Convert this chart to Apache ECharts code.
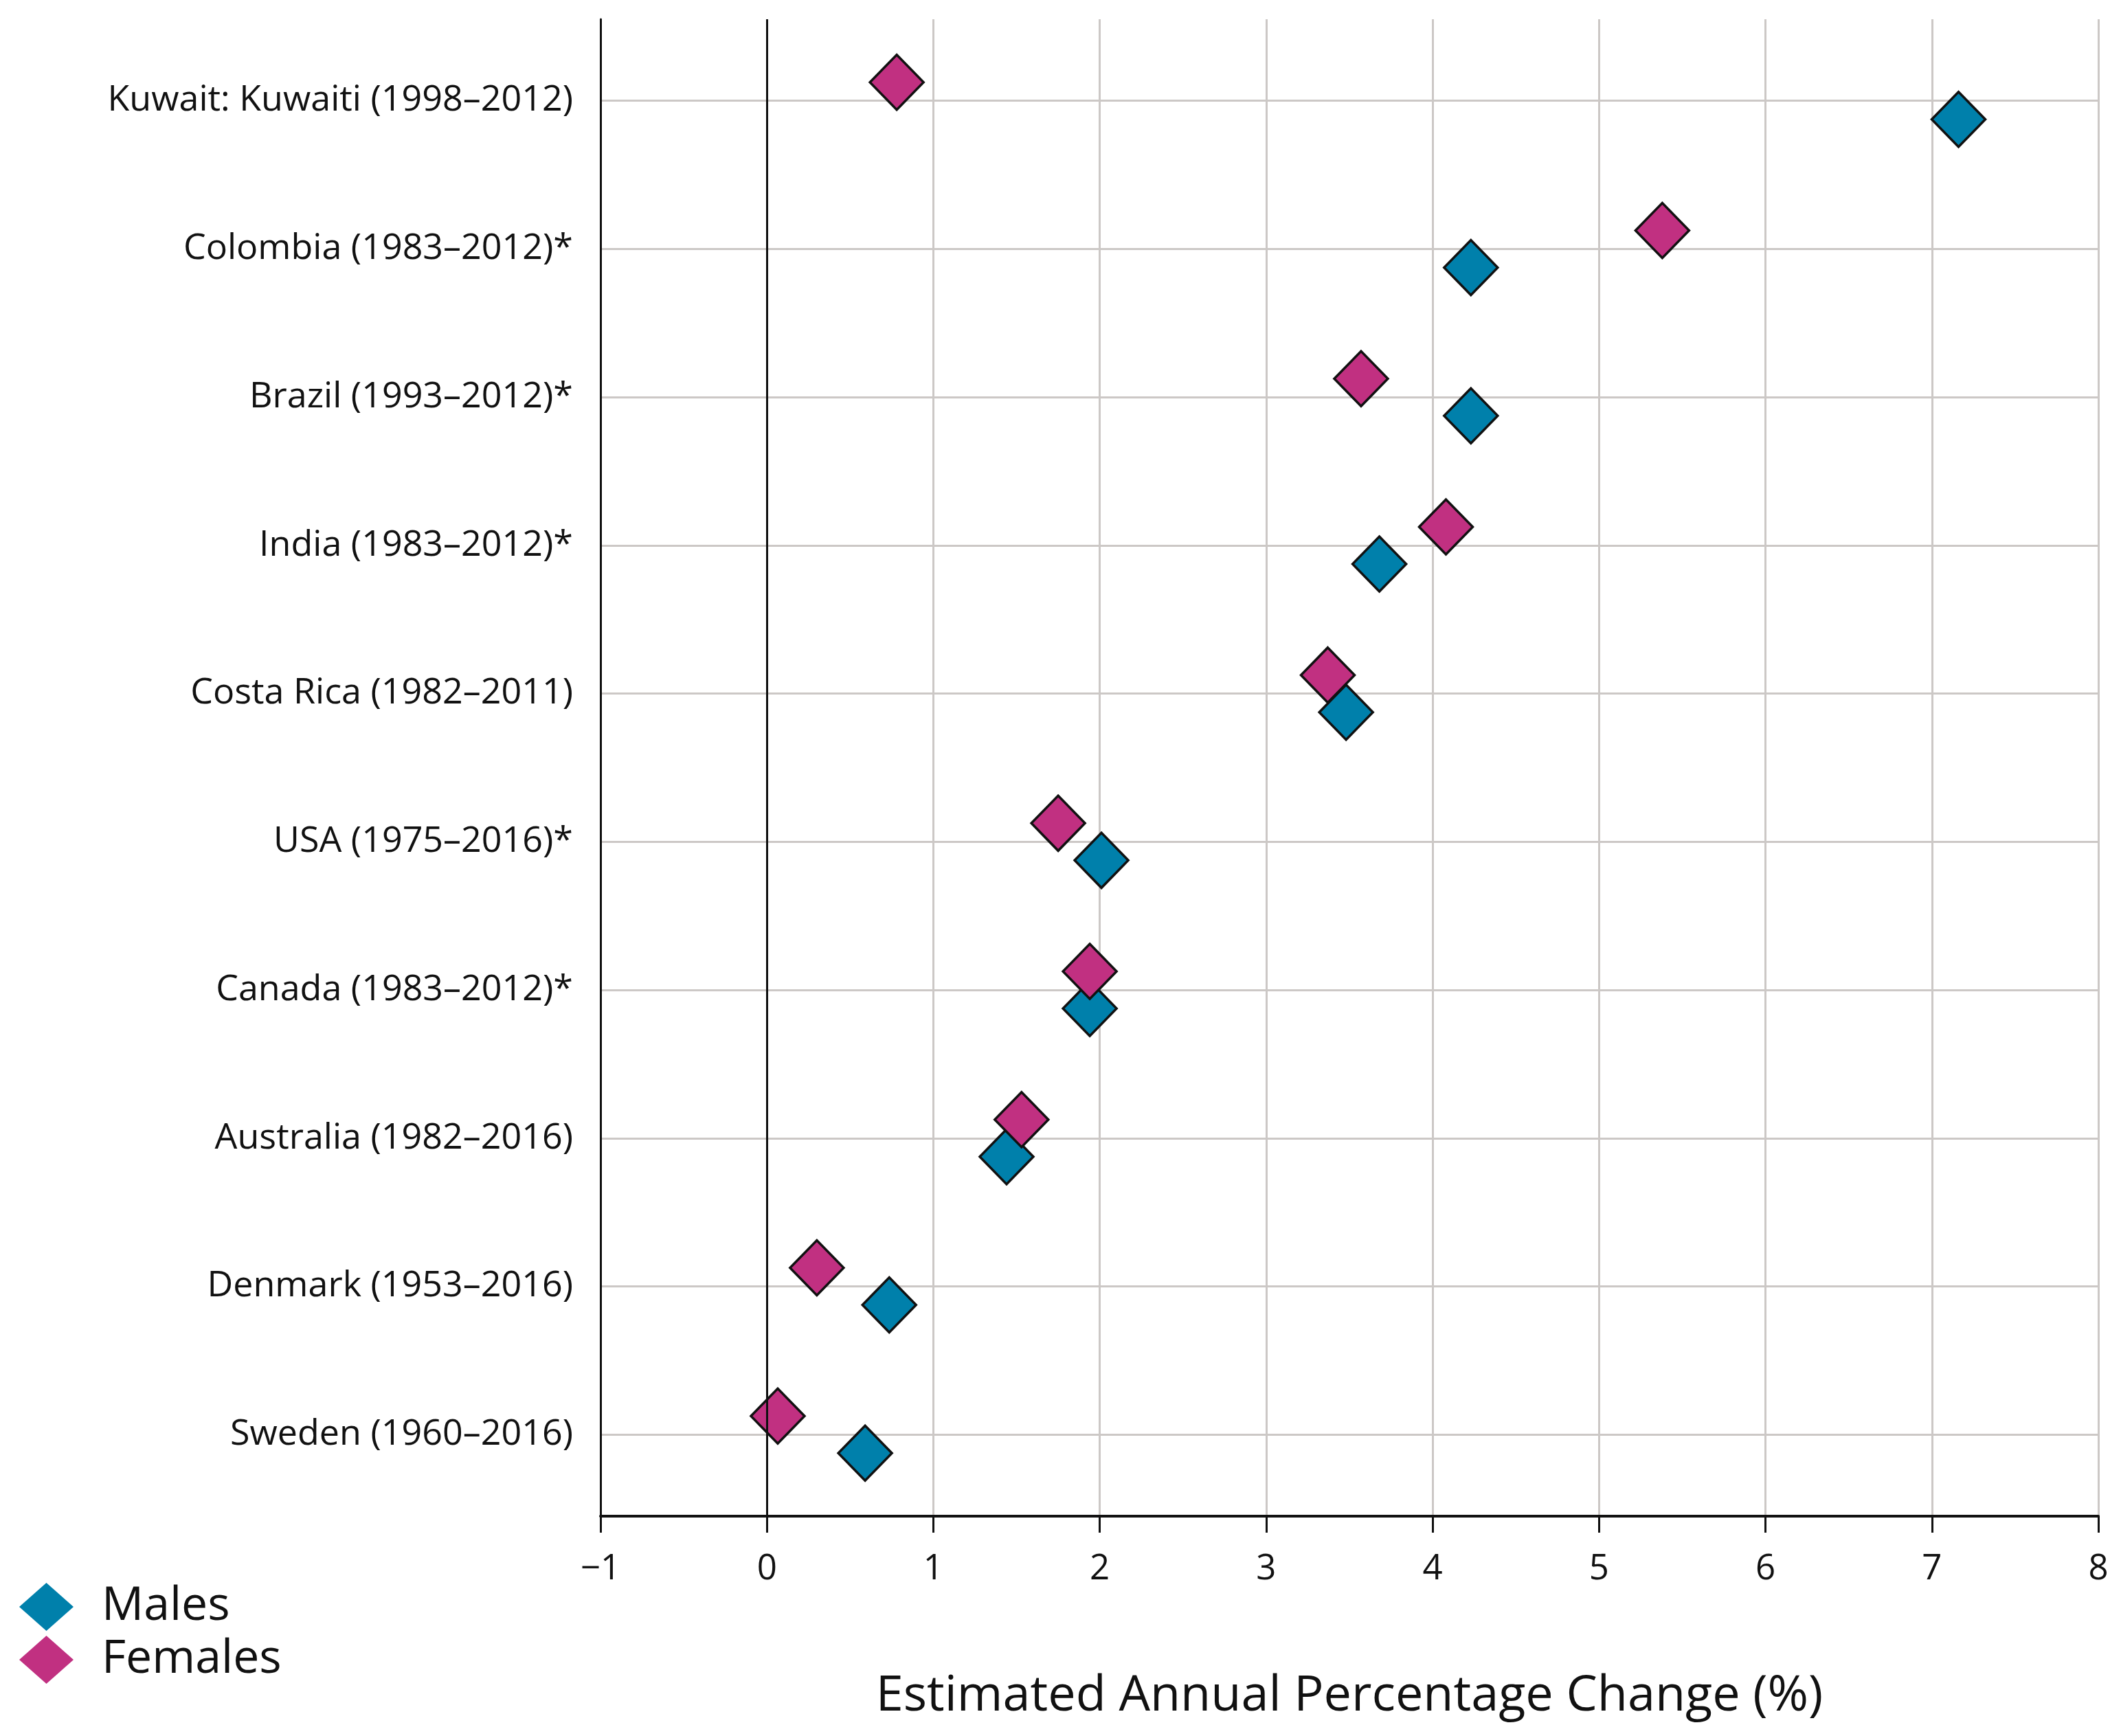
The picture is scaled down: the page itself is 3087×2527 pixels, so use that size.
<!DOCTYPE html>
<html>
<head>
<meta charset="utf-8">
<script src="https://cdn.jsdelivr.net/npm/echarts@6/dist/echarts.min.js"></script>
<style>
html,body{margin:0;padding:0;background:#fff;}
#chart{width:3087px;height:2527px;}
</style>
</head>
<body>
<div id="chart"></div>
<script>
const categories = [
  "Kuwait: Kuwaiti (1998\u20132012)",
  "Colombia (1983\u20132012)*",
  "Brazil (1993\u20132012)*",
  "India (1983\u20132012)*",
  "Costa Rica (1982\u20132011)",
  "USA (1975\u20132016)*",
  "Canada (1983\u20132012)*",
  "Australia (1982\u20132016)",
  "Denmark (1953\u20132016)",
  "Sweden (1960\u20132016)"
];
const males   = [7.16, 4.23, 4.23, 3.68, 3.48, 2.01, 1.94, 1.44, 0.735, 0.59];
const females = [0.78, 5.38, 3.57, 4.08, 3.37, 1.75, 1.94, 1.53, 0.30, 0.065];
const xTicks = [-1, 0, 1, 2, 3, 4, 5, 6, 7, 8];
const seriesNames = ["Males", "Females"];
const axisTitle = "Estimated Annual Percentage Change (%)";

const rowIdx = categories.map((c, i) => i);
const FONT = "'Open Sans', 'Noto Sans', sans-serif";

const chart = echarts.init(document.getElementById('chart'), null, {renderer: 'canvas'});
chart.setOption({
  backgroundColor: '#ffffff',
  animation: false,
  grid: {left: 874, right: 33, top: 28, bottom: 320, containLabel: false},
  legend: {
    orient: 'vertical', left: 23, top: 2299,
    itemWidth: 79, itemHeight: 70, itemGap: 7,
    icon: 'diamond',
    itemStyle: {borderWidth: 0},
    textStyle: {fontFamily: FONT, fontSize: 68, color: '#111', padding: [0, 0, 0, 36]},
    data: seriesNames
  },
  xAxis: {
    type: 'value', min: xTicks[0], max: xTicks[xTicks.length - 1], interval: 1,
    name: axisTitle, nameLocation: 'middle', nameGap: 226,
    nameTextStyle: {fontFamily: FONT, fontSize: 72, color: '#111'},
    axisLine: {show: true, onZero: false, lineStyle: {color: '#111', width: 4}},
    axisTick: {show: true, length: 24, lineStyle: {color: '#111', width: 3}},
    axisLabel: {
      fontFamily: FONT, fontSize: 51, color: '#111', margin: 52,
      formatter: v => (v < 0 ? '\u2212' + Math.abs(v) : String(v))
    },
    splitLine: {show: true, lineStyle: {color: '#ccc8c6', width: 3}}
  },
  yAxis: {
    type: 'value', inverse: true, min: -0.55, max: 9.55,
    axisLine: {show: true, onZero: false, lineStyle: {color: '#111', width: 3}},
    axisTick: {show: false, customValues: rowIdx},
    axisLabel: {
      customValues: rowIdx,
      fontFamily: FONT, fontSize: 52, color: '#111', margin: 40,
      formatter: v => categories[Math.round(v)] || ''
    },
    splitLine: {show: true, lineStyle: {color: '#ccc8c6', width: 3}}
  },
  series: [
    {
      name: seriesNames[0], type: 'scatter', symbol: 'diamond', symbolSize: [78, 80],
      symbolOffset: [0, 27],
      itemStyle: {color: '#0080AB', borderColor: '#111', borderWidth: 3.5, opacity: 1},
      data: males.map((v, i) => [v, rowIdx[i]]),
      markLine: {
        silent: true, symbol: 'none', label: {show: false},
        lineStyle: {color: '#111', width: 3, type: 'solid'},
        data: [{xAxis: 0}]
      },
      z: 3
    },
    {
      name: seriesNames[1], type: 'scatter', symbol: 'diamond', symbolSize: [78, 80],
      symbolOffset: [0, -27],
      itemStyle: {color: '#C13081', borderColor: '#111', borderWidth: 3.5, opacity: 1},
      data: females.map((v, i) => [v, rowIdx[i]]),
      z: 4
    }
  ]
});
</script>
</body>
</html>
